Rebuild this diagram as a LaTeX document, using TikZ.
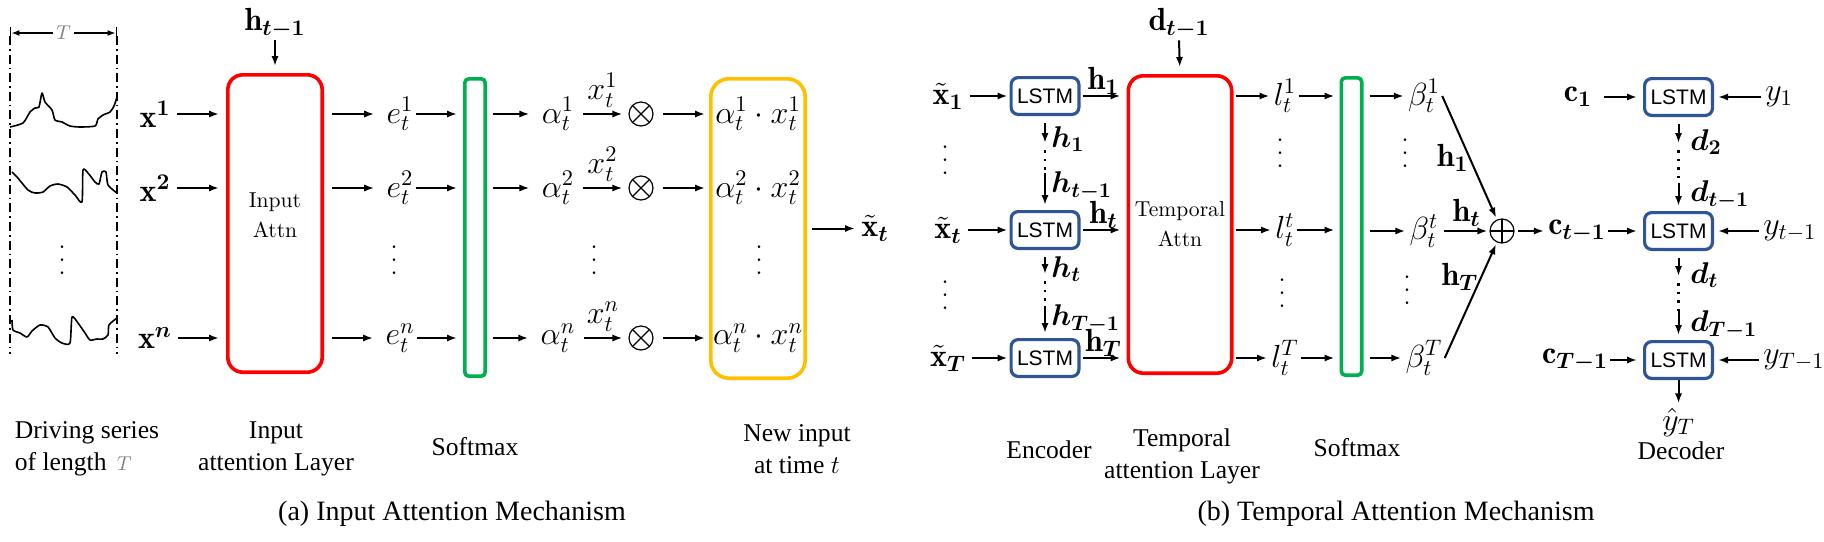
\RequirePackage{fix-cm}
\documentclass[tikz,border=0pt]{standalone}
\usepackage{fontspec}
\usepackage{amsmath,bm}
\usetikzlibrary{arrows.meta}

\newfontfamily\lstmfont{Liberation Sans}
\newfontfamily\capfont{Liberation Serif}

\definecolor{attnred}{RGB}{255,0,0}
\definecolor{smgreen}{RGB}{0,176,80}
\definecolor{newyellow}{RGB}{255,192,0}
\definecolor{lstmblue}{RGB}{47,85,151}

\newcommand{\rowdots}{\vbox{\baselineskip6.5pt\lineskiplimit0pt\hbox{.}\hbox{.}\hbox{.}}}

\tikzset{
	arr/.style={-{Latex[length=5pt,width=3.6pt]}, line width=1pt, shorten >=1pt},
	lbl/.style={font=\fontsize{16}{19}\selectfont, inner sep=1pt},
	chainlbl/.style={anchor=west, inner sep=1pt, font=\fontsize{15}{18}\selectfont},
	capt/.style={font=\capfont\fontsize{12.8}{16}\selectfont, align=center, inner sep=0pt},
	attnbox/.style={draw=attnred, line width=1.8pt, rounded corners=7.5pt, minimum width=47.2pt, minimum height=148.7pt, font=\fontsize{10.8}{15}\selectfont, align=center},
	smbox/.style={draw=smgreen, line width=1.8pt, rounded corners=2pt, minimum width=10.2pt, minimum height=148.7pt},
	newbox/.style={draw=newyellow, line width=1.8pt, rounded corners=9pt, minimum width=47.2pt, minimum height=149.7pt},
	lstm/.style={draw=lstmblue, line width=1.6pt, rounded corners=3.5pt, minimum width=33.9pt, minimum height=18.4pt, inner sep=0pt, font=\lstmfont\fontsize{10.5}{12}\selectfont},
	otimes/.style={circle, draw, line width=0.6pt, minimum size=12pt, inner sep=0pt, path picture={\draw[line width=0.6pt] (path picture bounding box.north west) -- (path picture bounding box.south east) (path picture bounding box.north east) -- (path picture bounding box.south west);}},
	oplus/.style={circle, draw, line width=0.6pt, minimum size=12pt, inner sep=0pt, path picture={\draw[line width=0.6pt] (path picture bounding box.north) -- (path picture bounding box.south) (path picture bounding box.west) -- (path picture bounding box.east);}},
	dashdot/.style={line width=0.8pt, dash pattern=on 4.5pt off 2pt on 0.8pt off 2pt},
	chaindots/.style={line width=1.2pt, dash pattern=on 1.3pt off 3pt},
	sigline/.style={line width=0.8pt, line join=round}
}

\begin{document}
\begin{tikzpicture}[x=0.5pt, y=-0.5pt]

	\useasboundingbox (0,0) rectangle (1824,541);

	\draw[dashdot] (10,36) -- (10,354);
	\draw[dashdot] (117,36) -- (117,354);
	\draw[>={Latex[length=4pt,width=3pt]}, |<->|, line width=0.7pt] (10,33) -- (117,33) node[midway, fill=white, inner sep=1.5pt, text=gray, font=\fontsize{10}{12}\selectfont] (tlen) {$T$};

	\draw[sigline] plot[smooth, tension=0.4] coordinates {(10,127) (23,123) (30,112) (35,108) (39,107) (42,93) (45,102) (52,110) (55,120) (62,122) (70,126) (80,127) (95,126) (98,119) (103,115) (110,112) (114,106) (117,97)};
	\draw[sigline] plot[smooth, tension=0.4] coordinates {(12,172) (17,177) (28,190) (35,193) (43,192) (50,186) (58,184) (67,187) (75,195) (82,202) (83,170) (88,173) (95,182) (99,184) (102,172) (106,172) (108,185) (117,193)};
	\draw[sigline] plot[smooth, tension=0.4] coordinates {(12,320) (13,330) (20,333) (27,337) (32,331) (40,325) (48,327) (55,338) (62,343) (70,343) (72,317) (78,323) (85,333) (90,340) (97,339) (103,339) (108,335) (109,325) (117,318)};
	\node[lbl] (wdots) at (62,260) {\rowdots};

	\node[lbl] (x1) at (155,114) {$\mathbf{x}^{\bm{1}}$};
	\node[lbl] (x2) at (155,188) {$\mathbf{x}^{\bm{2}}$};
	\node[lbl] (xn) at (155,338) {$\mathbf{x}^{\bm{n}}$};

	\node[attnbox] (inattn) at (275,223.5) {};
	\node[font=\fontsize{10.8}{15}\selectfont, align=center] (inlbl) at (275,215) {Input\\Attn};
	\node[lbl] (hprev) at (275,23) {$\mathbf{h}_{\bm{t-1}}$};
	\draw[arr, shorten >=3.5pt] (hprev.south) -- (inattn.north);

	\draw[arr, shorten <=2pt, shorten >=3.5pt] (x1.east) -- (x1 -| inattn.west);
	\draw[arr, shorten <=2pt, shorten >=3.5pt] (x2.east) -- (x2 -| inattn.west);
	\draw[arr, shorten <=2pt, shorten >=3.5pt] (xn.east) -- (xn -| inattn.west);

	\node[lbl] (e1) at (400,114) {$e_t^1$};
	\node[lbl] (e2) at (400,188) {$e_t^2$};
	\node[lbl] (edots) at (394,260) {\rowdots};
	\node[lbl] (en) at (400,338) {$e_t^n$};
	\draw[arr, shorten >=5pt] (e1 -| inattn.east) ++(8,0) -- (e1.west);
	\draw[arr, shorten >=5pt] (e2 -| inattn.east) ++(8,0) -- (e2.west);
	\draw[arr, shorten >=5pt] (en -| inattn.east) ++(8,0) -- (en.west);

	\node[smbox] (sm) at (475,227.5) {};
	\draw[arr, shorten >=3pt] (e1.east) -- (e1 -| sm.west);
	\draw[arr, shorten >=3pt] (e2.east) -- (e2 -| sm.west);
	\draw[arr, shorten >=3pt] (en.east) -- (en -| sm.west);

	\node[lbl] (a1) at (558,114) {$\alpha_t^1$};
	\node[lbl] (a2) at (558,188) {$\alpha_t^2$};
	\node[lbl] (adots) at (594,260) {\rowdots};
	\node[lbl] (an) at (558,338) {$\alpha_t^n$};
	\draw[arr, shorten >=5pt] (a1 -| sm.east) ++(6,0) -- (a1.west);
	\draw[arr, shorten >=5pt] (a2 -| sm.east) ++(6,0) -- (a2.west);
	\draw[arr, shorten >=5pt] (an -| sm.east) ++(6,0) -- (an.west);

	\node[otimes] (o1) at (641,114) {};
	\node[otimes] (o2) at (641,188) {};
	\node[otimes] (on) at (641,338) {};
	\draw[arr, shorten <=3pt, shorten >=3pt] (a1.east) -- (o1.west) node[lbl, midway, above, inner sep=3pt] (xa1) {$x_t^1$};
	\draw[arr, shorten <=3pt, shorten >=3pt] (a2.east) -- (o2.west) node[lbl, midway, above, inner sep=3pt] (xa2) {$x_t^2$};
	\draw[arr, shorten <=3pt, shorten >=3pt] (an.east) -- (on.west) node[lbl, midway, above, inner sep=3pt] (xan) {$x_t^n$};

	\node[newbox] (newin) at (758,228.5) {};
	\draw[arr, shorten <=4.5pt, shorten >=2pt] (o1.east) -- (o1 -| newin.west);
	\draw[arr, shorten <=4.5pt, shorten >=2pt] (o2.east) -- (o2 -| newin.west);
	\draw[arr, shorten <=4.5pt, shorten >=2pt] (on.east) -- (on -| newin.west);
	\node[lbl] (p1) at (758,114) {$\alpha_t^1\cdot x_t^1$};
	\node[lbl] (p2) at (758,188) {$\alpha_t^2\cdot x_t^2$};
	\node[lbl] (pdots) at (759,260) {\rowdots};
	\node[lbl] (pn) at (758,338) {$\alpha_t^n\cdot x_t^n$};

	\node[lbl] (xt) at (875,228.5) {$\tilde{\mathbf{x}}_{\bm{t}}$};
	\draw[arr, shorten >=2pt] (newin.east) ++(5,0) -- (xt.west);

	\node[capt, align=left] (lds) at (87,449) {Driving series\\of length~\,{\color{gray}\fontsize{10}{12}\selectfont$T$}};
	\node[capt] (lin) at (276,449) {Input\\attention Layer};
	\node[capt] (lsm) at (475,447) {Softmax};
	\node[capt] (lnew) at (797,449) {New input\\at time $t$};
	\node[capt, font=\capfont\fontsize{14}{18}\selectfont] (capa) at (452,514) {(a) Input Attention Mechanism};

	\node[lbl] (xe1) at (948,96) {$\tilde{\mathbf{x}}_{\bm{1}}$};
	\node[lbl] (xedots1) at (945,160) {\rowdots};
	\node[lbl] (xet) at (948,230) {$\tilde{\mathbf{x}}_{\bm{t}}$};
	\node[lbl] (xedots2) at (945,295) {\rowdots};
	\node[lbl] (xeT) at (948,358) {$\tilde{\mathbf{x}}_{\bm{T}}$};

	\node[lstm] (enc1) at (1045,96) {LSTM};
	\node[lstm] (enc2) at (1045,230) {LSTM};
	\node[lstm] (enc3) at (1045,358) {LSTM};
	\draw[arr, shorten <=2pt] (xe1.east) -- (enc1.west);
	\draw[arr, shorten <=2pt] (xet.east) -- (enc2.west);
	\draw[arr, shorten <=2pt] (xeT.east) -- (enc3.west);

	\coordinate (ec1) at (1045,145);
	\coordinate (ec2) at (1045,173);
	\coordinate (ec3) at (1045,276);
	\coordinate (ec4) at (1045,306);
	\draw[arr, shorten <=3.5pt] (enc1.south) -- (ec1);
	\draw[chaindots] (ec1) ++(0,5) -- (ec2);
	\draw[arr, shorten >=2.5pt] (ec2) -- (enc2.north);
	\draw[arr, shorten <=3.5pt] (enc2.south) -- (ec3);
	\draw[chaindots] (ec3) ++(0,5) -- (ec4);
	\draw[arr, shorten >=2.5pt] (ec4) -- (enc3.north);
	\node[chainlbl] (eh1) at (1049,139) {$\bm{h}_{\bm{1}}$};
	\node[chainlbl] (ehp) at (1049,186) {$\bm{h}_{\bm{t-1}}$};
	\node[chainlbl] (eht) at (1049,269) {$\bm{h}_{\bm{t}}$};
	\node[chainlbl] (ehT) at (1049,319) {$\bm{h}_{\bm{T-1}}$};

	\node[attnbox] (tattn) at (1180,224.5) {Temporal\\Attn};
	\node[lbl] (dprev) at (1179,23) {$\mathbf{d}_{\bm{t-1}}$};
	\draw[arr, shorten >=3.5pt] (dprev.south) -- (tattn.north);
	\draw[arr, shorten <=1pt, shorten >=3pt] (enc1.east) -- (enc1 -| tattn.west) node[lbl, midway, above, inner sep=0.5pt] (th1) {$\mathbf{h}_{\bm{1}}$};
	\draw[arr, shorten <=1pt, shorten >=3pt] (enc2.east) -- (enc2 -| tattn.west) node[lbl, midway, above, inner sep=0.5pt] (tht) {$\mathbf{h}_{\bm{t}}$};
	\draw[arr, shorten <=1pt, shorten >=3pt] (enc3.east) -- (enc3 -| tattn.west) node[lbl, midway, above, inner sep=0.5pt] (thT) {$\mathbf{h}_{\bm{T}}$};

	\node[lbl] (l1) at (1285,96) {$l_t^1$};
	\node[lbl] (ldots1) at (1280,153) {\rowdots};
	\node[lbl] (lt) at (1285,230) {$l_t^t$};
	\node[lbl] (ldots2) at (1282,293) {\rowdots};
	\node[lbl] (lT) at (1285,358) {$l_t^T$};
	\draw[arr] (l1 -| tattn.east) ++(2,0) -- (l1.west);
	\draw[arr] (lt -| tattn.east) ++(2,0) -- (lt.west);
	\draw[arr] (lT -| tattn.east) ++(2,0) -- (lT.west);

	\node[smbox] (sm2) at (1351.5,226.5) {};
	\draw[arr, shorten >=2.5pt] (l1.east) -- (l1 -| sm2.west);
	\draw[arr, shorten >=2.5pt] (lt.east) -- (lt -| sm2.west);
	\draw[arr, shorten >=2.5pt] (lT.east) -- (lT -| sm2.west);

	\node[lbl] (b1) at (1424,96) {$\beta_t^1$};
	\node[lbl] (bdots1) at (1405,153) {\rowdots};
	\node[lbl] (bt) at (1424,231) {$\beta_t^t$};
	\node[lbl] (bdots2) at (1407,290) {\rowdots};
	\node[lbl] (bT) at (1424,358) {$\beta_t^T$};
	\draw[arr] (b1 -| sm2.east) ++(6,0) -- (b1.west);
	\draw[arr] (bt -| sm2.east) ++(6,0) -- (bt.west);
	\draw[arr] (bT -| sm2.east) ++(6,0) -- (bT.west);

	\node[oplus] (plus) at (1502,231) {};
	\draw[arr] (b1.east) -- (plus) node[lbl, midway, left, inner sep=0pt] (bh1) {$\mathbf{h}_{\bm{1}}$};
	\draw[arr] (bt.east) ++(3,0) -- (plus) node[lbl, midway, above, inner sep=2pt] (bht) {$\mathbf{h}_{\bm{t}}$};
	\draw[arr] (bT.east) -- (plus) node[lbl, pos=0.7, left, inner sep=1pt] (bhT) {$\mathbf{h}_{\bm{T}}$};

	\node[lstm] (dec1) at (1678.5,97) {LSTM};
	\node[lstm] (dec2) at (1678.5,231) {LSTM};
	\node[lstm] (dec3) at (1678.5,360) {LSTM};

	\node[lbl] (c1) at (1578,97) {$\mathbf{c}_{\bm{1}}$};
	\node[lbl] (ct) at (1577,231) {$\mathbf{c}_{\bm{t-1}}$};
	\node[lbl] (cT) at (1575,360) {$\mathbf{c}_{\bm{T-1}}$};
	\draw[arr, shorten <=1.5pt] (plus.east) -- (ct.west);
	\draw[arr, shorten <=5pt, shorten >=3pt] (c1.east) -- (dec1.west);
	\draw[arr, shorten >=3pt] (ct.east) -- (dec2.west);
	\draw[arr, shorten >=3pt] (cT.east) -- (dec3.west);

	\node[lbl, anchor=west] (y1) at (1763,97) {$y_1$};
	\node[lbl, anchor=west] (yt) at (1761,231) {$y_{t-1}$};
	\node[lbl, anchor=west] (yT) at (1761,360) {$y_{T-1}$};
	\draw[arr, shorten <=1pt, shorten >=2pt] (y1.west) -- (dec1.east);
	\draw[arr, shorten <=1pt, shorten >=2pt] (yt.west) -- (dec2.east);
	\draw[arr, shorten <=1pt, shorten >=2pt] (yT.west) -- (dec3.east);

	\coordinate (dc1) at (1678.5,145);
	\coordinate (dc2) at (1678.5,183);
	\coordinate (dc3) at (1678.5,278);
	\coordinate (dc4) at (1678.5,311);
	\draw[arr, shorten <=3.5pt] (dec1.south) -- (dc1);
	\draw[chaindots] (dc1) ++(0,5) -- (dc2);
	\draw[arr, shorten >=2.5pt] (dc2) -- (dec2.north);
	\draw[arr, shorten <=3.5pt] (dec2.south) -- (dc3);
	\draw[chaindots] (dc3) ++(0,5) -- (dc4);
	\draw[arr, shorten >=2.5pt] (dc4) -- (dec3.north);
	\node[chainlbl] (dd2) at (1688,142) {$\bm{d}_{\bm{2}}$};
	\node[chainlbl] (ddp) at (1688,195) {$\bm{d}_{\bm{t-1}}$};
	\node[chainlbl] (ddt) at (1688,275) {$\bm{d}_{\bm{t}}$};
	\node[chainlbl] (ddT) at (1688,325) {$\bm{d}_{\bm{T-1}}$};

	\node[lbl] (yhat) at (1678.5,422) {$\hat{y}_T$};
	\draw[arr] (dec3.south) -- (yhat.north);

	\node[capt] (lenc) at (1049,450) {Encoder};
	\node[capt] (ltemp) at (1182,456) {Temporal\\attention Layer};
	\node[capt] (lsm2) at (1357,448) {Softmax};
	\node[capt] (ldec) at (1681,451) {Decoder};
	\node[capt, font=\capfont\fontsize{14}{18}\selectfont] (capb) at (1396,514) {(b) Temporal Attention Mechanism};

\end{tikzpicture}
\end{document}
